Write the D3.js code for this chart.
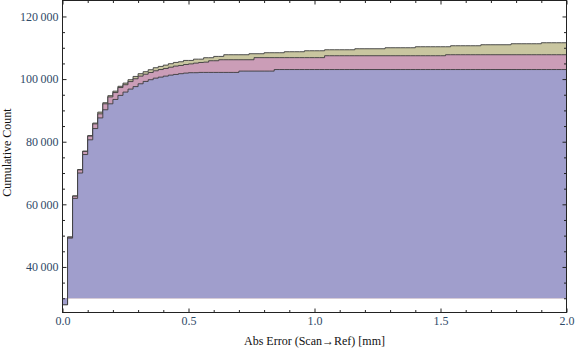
<!DOCTYPE html>
<html lang="en">
  <head>
    <meta charset="utf-8">
    <title>Cumulative abs error histogram</title>
    <style>
      body { margin: 0; background: #fff; }
      svg { display: block; }
    </style>
  </head>
  <body>
    <div id="chart-area"></div>
    <script type="text/javascript" src="https://cdn.jsdelivr.net/npm/d3@7"></script>
    <script>
      // bins of 0.02 mm, cumulative counts
      const bin_edges = d3.range(0, 101).map(i => +(i * 0.02).toFixed(2));

      const purple_counts = [
        27900, 49200, 61900, 70000, 75900, 80600, 84200, 87600, 90200, 92100,
        93500, 94800, 95850, 96800, 97600, 98500, 99250, 99800, 100300, 100630,
        100950, 101270, 101490, 101720, 101910, 102040, 102040, 102130, 102130, 102130,
        102130, 102130, 102130, 102130, 102130, 102550, 102550, 102550, 102550, 102550,
        102550, 102550, 103050, 103050, 103050, 103050, 103050, 103050, 103050, 103050,
        103050, 103050, 103050, 103050, 103050, 103050, 103050, 103050, 103050, 103050,
        103050, 103050, 103050, 103050, 103050, 103050, 103050, 103050, 103050, 103050,
        103050, 103050, 103050, 103050, 103050, 103050, 103050, 103050, 103050, 103050,
        103050, 103050, 103050, 103050, 103050, 103050, 103050, 103050, 103050, 103050,
        103050, 103050, 103050, 103050, 103050, 103050, 103050, 103050, 103050, 103050
      ];

      const pink_counts = [
        28000, 49500, 62600, 71000, 76900, 81800, 85700, 88900, 92100, 94300,
        95700, 97300, 98200, 99200, 100100, 100950, 101550, 102100, 102650, 103050,
        103400, 103800, 104150, 104350, 104650, 104850, 105100, 105300, 105420, 105860,
        105860, 106180, 106180, 106180, 106180, 106180, 106180, 106180, 106850, 106850,
        106850, 106850, 106850, 106850, 106850, 106850, 106850, 106850, 106850, 106850,
        106850, 106850, 107460, 107460, 107460, 107460, 107460, 107460, 107460, 107460,
        107460, 107460, 107460, 107460, 107460, 107460, 107460, 107460, 107460, 107460,
        107460, 107460, 107460, 107460, 107460, 107460, 107780, 107780, 107780, 107780,
        107780, 107780, 107780, 107780, 107780, 107780, 107780, 107780, 107780, 107780,
        107780, 107780, 107780, 107780, 107780, 107780, 107780, 107780, 107780, 107780
      ];

      const olive_counts = [
        28050, 49600, 62700, 71100, 77000, 81950, 85950, 89450, 92450, 94700,
        96150, 97700, 98720, 99800, 100850, 101720, 102360, 102990, 103630, 104050,
        104460, 104910, 105320, 105540, 105960, 105960, 106370, 106370, 106820, 106820,
        107240, 107240, 107780, 107780, 107780, 107780, 107780, 108100, 108100, 108100,
        108420, 108420, 108420, 108420, 108740, 108740, 108740, 108740, 109050, 109050,
        109050, 109050, 109370, 109370, 109370, 109370, 109370, 109370, 109690, 109690,
        109690, 109690, 109690, 109690, 110010, 110010, 110010, 110010, 110010, 110010,
        110330, 110330, 110330, 110330, 110330, 110330, 110330, 110650, 110650, 110650,
        110650, 110650, 110650, 110970, 110970, 110970, 110970, 110970, 110970, 111290,
        111290, 111290, 111290, 111290, 111290, 111610, 111610, 111610, 111610, 111610
      ];

      const fill_base = 30000;
      const x_major_ticks = [0, 0.5, 1.0, 1.5, 2.0];
      const x_minor_ticks = [0.1, 0.2, 0.3, 0.4, 0.6, 0.7, 0.8, 0.9, 1.1, 1.2, 1.3, 1.4, 1.6, 1.7, 1.8, 1.9];
      const y_major_ticks = [40000, 60000, 80000, 100000, 120000];
      const y_minor_ticks = [30000, 35000, 45000, 50000, 55000, 65000, 70000, 75000,
                             85000, 90000, 95000, 105000, 110000, 115000];

      const svg_width = 576;
      const svg_height = 353;
      const plot_left = 62.5, plot_right = 566.5, plot_top = 0.5, plot_bottom = 312.5;
      const serif = '"Liberation Serif", "Times New Roman", serif';

      const svg = d3.select('#chart-area')
        .append('svg')
        .attr('width', svg_width)
        .attr('height', svg_height);

      const x_scale = d3.scaleLinear().domain([0, 2]).range([plot_left, plot_right]);
      const y_scale = d3.scaleLinear().domain([25450, 125100]).range([plot_bottom, plot_top]);

      svg.append('clipPath').attr('id', 'plot-clip')
        .append('rect')
        .attr('x', plot_left).attr('y', plot_top)
        .attr('width', plot_right - plot_left).attr('height', plot_bottom - plot_top);

      const plot = svg.append('g').attr('clip-path', 'url(#plot-clip)');

      const series = [
        {counts: olive_counts, fill: '#c9c6a0'},
        {counts: pink_counts, fill: '#cb9db7'},
        {counts: purple_counts, fill: '#a09ecc'}
      ];

      const to_points = counts => {
        const pts = counts.map((c, i) => [bin_edges[i], c]);
        pts.push([bin_edges[counts.length], counts[counts.length - 1]]);
        return pts;
      };

      const area = d3.area()
        .curve(d3.curveStepAfter)
        .x(d => x_scale(d[0]))
        .y0(y_scale(fill_base))
        .y1(d => y_scale(d[1]));

      const line = d3.line()
        .curve(d3.curveStepAfter)
        .x(d => x_scale(d[0]))
        .y(d => y_scale(d[1]));

      series.forEach(s => {
        const pts = to_points(s.counts);
        plot.append('path')
          .attr('d', area(pts))
          .attr('fill', s.fill)
          .attr('stroke', 'none');
        plot.append('path')
          .attr('d', line(pts))
          .attr('fill', 'none')
          .attr('stroke', '#3c3c3c')
          .attr('stroke-width', 1)
          .attr('stroke-opacity', 0.9);
      });

      // frame ticks, all pointing inward
      const add_axis = (axis, tx, ty) => {
        const g = svg.append('g')
          .attr('transform', `translate(${tx},${ty})`)
          .call(axis);
        g.select('.domain').remove();
        g.selectAll('line').attr('stroke', '#222');
        g.selectAll('text')
          .attr('font-family', serif)
          .attr('font-size', 12)
          .attr('fill', '#2f4a68');
        return g;
      };

      const fmt_y = d => d3.format(',')(d).replace(',', '\u2009');

      add_axis(d3.axisLeft(y_scale).tickValues(y_major_ticks).tickSize(-4).tickPadding(4).tickFormat(fmt_y), plot_left, 0);
      add_axis(d3.axisLeft(y_scale).tickValues(y_minor_ticks).tickSize(-2.5).tickFormat(''), plot_left, 0);
      add_axis(d3.axisRight(y_scale).tickValues(y_major_ticks).tickSize(-4).tickFormat(''), plot_right, 0);
      add_axis(d3.axisRight(y_scale).tickValues(y_minor_ticks).tickSize(-2.5).tickFormat(''), plot_right, 0);

      add_axis(d3.axisBottom(x_scale).tickValues(x_major_ticks).tickSize(-4).tickPadding(4).tickFormat(d3.format('.1f')), 0, plot_bottom);
      add_axis(d3.axisBottom(x_scale).tickValues(x_minor_ticks).tickSize(-2.5).tickFormat(''), 0, plot_bottom);
      add_axis(d3.axisTop(x_scale).tickValues(x_major_ticks).tickSize(-4).tickFormat(''), 0, plot_top);
      add_axis(d3.axisTop(x_scale).tickValues(x_minor_ticks).tickSize(-2.5).tickFormat(''), 0, plot_top);

      svg.append('rect')
        .attr('x', plot_left).attr('y', plot_top)
        .attr('width', plot_right - plot_left).attr('height', plot_bottom - plot_top)
        .attr('fill', 'none')
        .attr('stroke', '#222')
        .attr('stroke-width', 1);

      svg.append('text')
        .text('Abs Error (Scan\u2192Ref) [mm]')
        .attr('x', (plot_left + plot_right) / 2)
        .attr('y', 345)
        .attr('text-anchor', 'middle')
        .attr('font-family', serif)
        .attr('font-size', 12)
        .attr('fill', '#111');

      svg.append('text')
        .text('Cumulative Count')
        .attr('transform', `translate(11,${(plot_top + plot_bottom) / 2 - 4}) rotate(-90)`)
        .attr('text-anchor', 'middle')
        .attr('font-family', serif)
        .attr('font-size', 12)
        .attr('fill', '#111');
    </script>
  </body>
</html>
